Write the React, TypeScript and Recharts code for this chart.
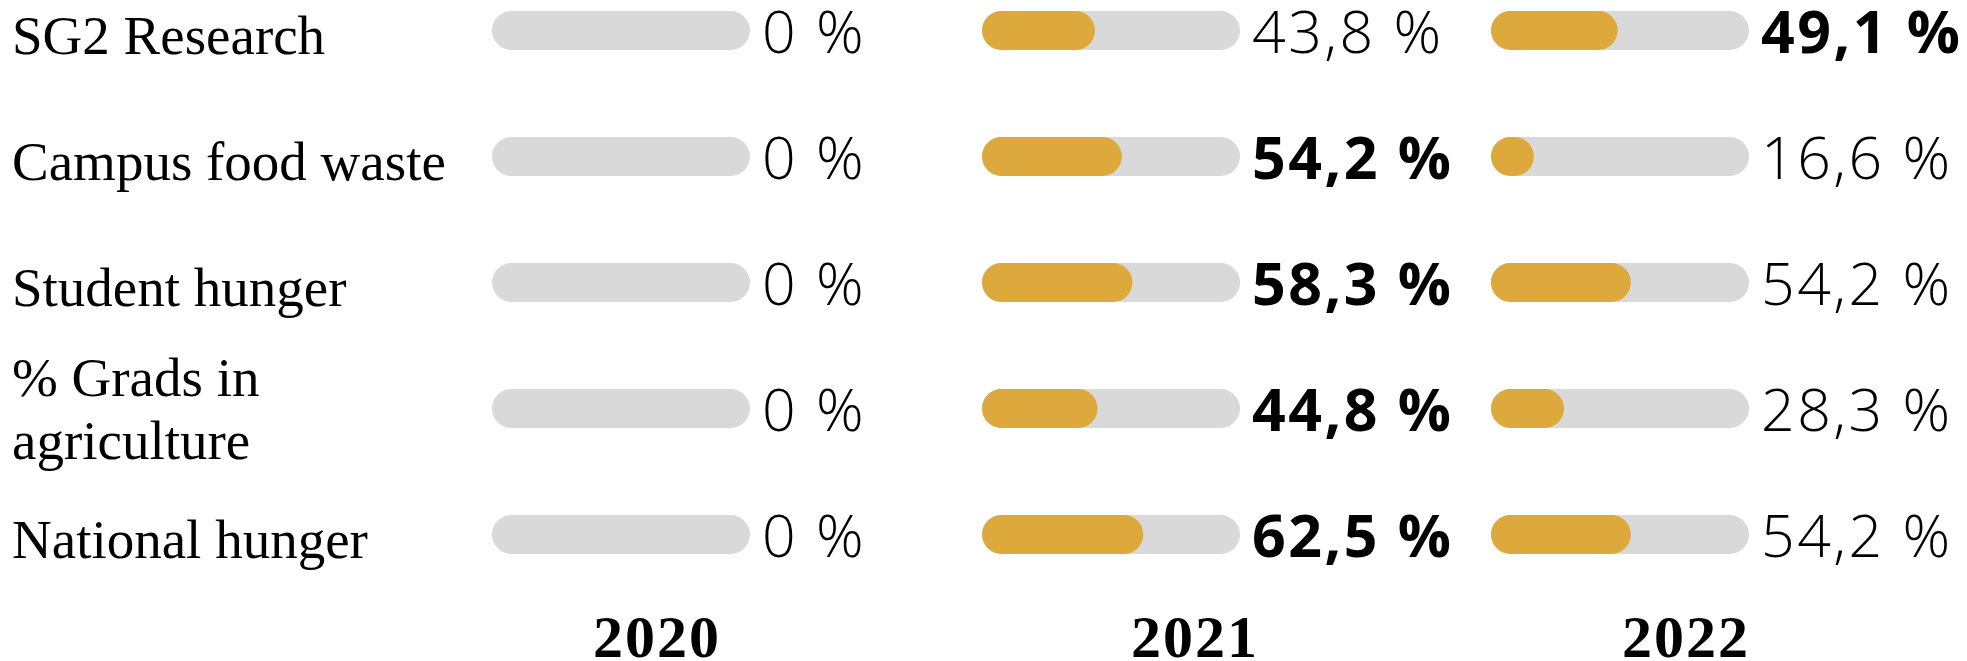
import { BarChart, Bar, XAxis, YAxis, LabelList } from "recharts";

const categories = [
  "SG2 Research",
  "Campus food waste",
  "Student hunger",
  "% Grads in agriculture",
  "National hunger",
];
const years = ["2020", "2021", "2022"];
const values2020 = [0, 0, 0, 0, 0];
const values2021 = [43.8, 54.2, 58.3, 44.8, 62.5];
const values2022 = [49.1, 16.6, 54.2, 28.3, 54.2];
const trackValues = [100, 100, 100, 100, 100];

const allValues = [values2020, values2021, values2022];

// layout constants (page px)
const PLOT_W = 258;
const PLOT_H = 630;
const TOP = -33;
const AXIS_H = 661 - TOP - PLOT_H;
const LABEL_W = 492;
const BAR_H = 39;
const columnLeft = [0, 982, 1491];
const columnWidth = [950, 478, 476];
const yearDx = [36, 84, 66];
const MAX_CHARS = 18;

const ORANGE = "#dea93c";
const GREY = "#d9d9d9";
const SERIF = "'Liberation Serif', 'Times New Roman', serif";
const SANS = "'Open Sans', 'Noto Sans', sans-serif";

function fmtPct(v: number) {
  if (v === 0) return "0 %";
  return v.toFixed(1).replace(".", ",") + " %";
}

function isBest(col: number, row: number) {
  const v = allValues[col][row];
  if (v <= 0) return false;
  return allValues.every((vals) => vals[row] <= v);
}

function wrap(label: string) {
  const lines: string[] = [];
  let cur = "";
  for (const w of label.split(" ")) {
    const next = cur ? cur + " " + w : w;
    if (next.length > MAX_CHARS && cur) {
      lines.push(cur);
      cur = w;
    } else {
      cur = next;
    }
  }
  if (cur) lines.push(cur);
  return lines;
}

function CategoryTick(props: any) {
  const { y, payload } = props;
  const lines = wrap(String(payload.value));
  const first = y + 24 - 36 * (lines.length - 1);
  return (
    <text x={12} y={first} fontFamily={SERIF} fontSize={55} fill="#000">
      {lines.map((l, i) => (
        <tspan key={i} x={12} y={first + 63 * i}>
          {l}
        </tspan>
      ))}
    </text>
  );
}

function YearColumn({ col }: { col: number }) {
  const rows = categories.map((name, i) => ({
    name,
    track: trackValues[i],
    value: allValues[col][i],
  }));
  const withLabels = col === 0;
  const width = columnWidth[col];
  const yWidth = withLabels ? LABEL_W : 0;
  const marginRight = width - yWidth - PLOT_W;

  return (
    <div style={{ position: "absolute", left: columnLeft[col], top: TOP }}>
      <BarChart
        width={width}
        height={PLOT_H + AXIS_H}
        data={rows}
        layout="vertical"
        barGap={-BAR_H}
        margin={{ top: 0, right: marginRight, bottom: 0, left: 0 }}
      >
        <XAxis
          type="number"
          domain={[0, 100]}
          tick={false}
          axisLine={false}
          tickLine={false}
          height={AXIS_H}
          label={{
            content: (p: any) => {
              const vb = p.viewBox;
              return (
                <text
                  x={vb.x + vb.width / 2 + yearDx[col]}
                  y={vb.y + vb.height - 4}
                  textAnchor="middle"
                  fontFamily={SERIF}
                  fontWeight={700}
                  fontSize={60}
                  letterSpacing={2}
                  fill="#000"
                >
                  {years[col]}
                </text>
              );
            },
          }}
        />
        <YAxis
          type="category"
          dataKey="name"
          hide={!withLabels}
          width={yWidth}
          axisLine={false}
          tickLine={false}
          tick={<CategoryTick />}
          interval={0}
        />
        <Bar
          dataKey="track"
          fill={GREY}
          barSize={BAR_H}
          radius={BAR_H / 2}
          isAnimationActive={false}
        >
          <LabelList
            dataKey="value"
            content={(p: any) => {
              const bold = isBest(col, p.index);
              return (
                <text
                  x={p.x + p.width + 12}
                  y={p.y + p.height / 2 + 22}
                  fontFamily={SANS}
                  fontWeight={bold ? 700 : 300}
                  fontSize={59}
                  letterSpacing={2.5}
                  fill="#000"
                >
                  {fmtPct(Number(p.value))}
                </text>
              );
            }}
          />
        </Bar>
        <Bar
          dataKey="value"
          fill={ORANGE}
          barSize={BAR_H}
          radius={BAR_H / 2}
          isAnimationActive={false}
        />
      </BarChart>
    </div>
  );
}

export default function App() {
  return (
    <div
      style={{
        position: "absolute",
        left: 0,
        top: 0,
        width: 1967,
        height: 661,
        overflow: "hidden",
        background: "#fff",
      }}
    >
      {years.map((y, i) => (
        <YearColumn key={y} col={i} />
      ))}
    </div>
  );
}
